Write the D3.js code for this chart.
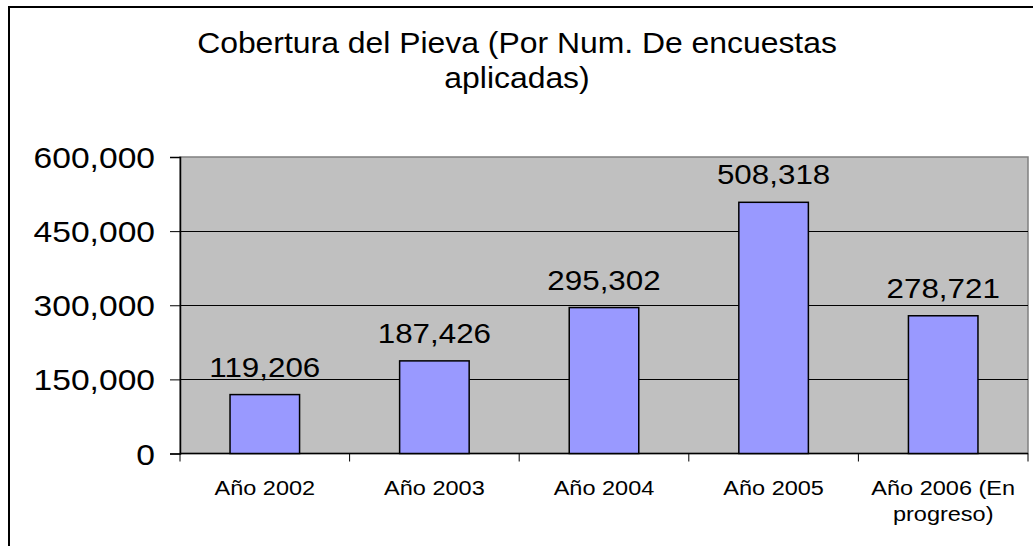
<!DOCTYPE html>
<html>
<head>
<meta charset="utf-8">
<script src="https://cdn.jsdelivr.net/npm/d3@7/dist/d3.min.js"></script>
<style>
  html, body { margin: 0; padding: 0; background: #fff; }
  text { font-family: "Liberation Sans", Arial, sans-serif; fill: #000; }
</style>
</head>
<body>
<div id="chart"></div>
<script>
var categories = [["Año 2002"], ["Año 2003"], ["Año 2004"], ["Año 2005"], ["Año 2006 (En", "progreso)"]];
var values = [119206, 187426, 295302, 508318, 278721];
var yTicks = [0, 150000, 300000, 450000, 600000];
var titleLines = ["Cobertura del Pieva (Por Num. De encuestas", "aplicadas)"];

var width = 1033, height = 546;
var plot = { left: 180, top: 157, right: 1028, bottom: 453.5 };

var svg = d3.select("#chart").append("svg")
  .attr("width", width)
  .attr("height", height);

// outer chart border (right and bottom are cut off)
svg.append("rect")
  .attr("x", 9).attr("y", 7)
  .attr("width", 1100).attr("height", 600)
  .attr("fill", "#fff")
  .attr("stroke", "#000")
  .attr("stroke-width", 2);

// the original text is a bit wider than plain Arial
function label(sel, x, y, txt, size, anchor, stretch) {
  return sel.append("text")
    .attr("transform", "translate(" + x + "," + y + ") scale(" + (stretch || 1.12) + ",1)")
    .attr("text-anchor", anchor || "middle")
    .style("font-size", size + "px")
    .text(txt);
}

var x = d3.scaleBand()
  .domain(d3.range(categories.length))
  .range([plot.left, plot.right])
  .paddingInner(0.59)
  .paddingOuter(0.295);

var y = d3.scaleLinear()
  .domain([0, 600000])
  .range([plot.bottom, plot.top]);

// plot area
svg.append("rect")
  .attr("x", plot.left).attr("y", plot.top)
  .attr("width", plot.right - plot.left)
  .attr("height", plot.bottom - plot.top)
  .attr("fill", "#c0c0c0")
  .attr("stroke", "#808080")
  .attr("stroke-width", 1.5);

// gridlines
svg.append("g").selectAll("line")
  .data(yTicks.filter(function(d) { return d > 0 && d < 600000; }))
  .enter().append("line")
    .attr("x1", plot.left).attr("x2", plot.right)
    .attr("y1", function(d) { return Math.round(y(d)) + 0.5; })
    .attr("y2", function(d) { return Math.round(y(d)) + 0.5; })
    .attr("stroke", "#000")
    .attr("stroke-width", 1);

// y axis
var fmt = d3.format(",");
var yAxis = svg.append("g")
  .attr("transform", "translate(" + plot.left + ",0)")
  .call(d3.axisLeft(y).tickValues(yTicks).tickSize(10).tickFormat(""));
yAxis.select(".domain").attr("stroke", "#000").attr("stroke-width", 1.5);
yAxis.selectAll(".tick line").attr("stroke", "#000");
yTicks.forEach(function(t) {
  label(svg, 155, y(t) + 11, fmt(t), 30, "end");
});

// x axis
var xAxis = svg.append("g")
  .attr("transform", "translate(0," + plot.bottom + ")");
xAxis.append("line")
  .attr("x1", plot.left).attr("x2", plot.right)
  .attr("stroke", "#000").attr("stroke-width", 1.5);
var step = x.step();
xAxis.selectAll(".xtick")
  .data(d3.range(categories.length + 1))
  .enter().append("line")
    .attr("class", "xtick")
    .attr("x1", function(i) { return plot.left + i * step; })
    .attr("x2", function(i) { return plot.left + i * step; })
    .attr("y1", 0).attr("y2", 8)
    .attr("stroke", "#000");

categories.forEach(function(lines, i) {
  var cx = x(i) + x.bandwidth() / 2;
  lines.forEach(function(l, j) {
    label(svg, cx, 495 + j * 26, l, 21);
  });
});

// bars
svg.append("g").selectAll("rect")
  .data(values)
  .enter().append("rect")
    .attr("x", function(d, i) { return x(i); })
    .attr("y", function(d) { return y(d); })
    .attr("width", x.bandwidth())
    .attr("height", function(d) { return plot.bottom - y(d); })
    .attr("fill", "#9999ff")
    .attr("stroke", "#000")
    .attr("stroke-width", 1.5);

// value labels
values.forEach(function(v, i) {
  label(svg, x(i) + x.bandwidth() / 2, y(v) - 18, fmt(v), 28);
});

// title
titleLines.forEach(function(l, j) {
  label(svg, 517, 53 + j * 35, l, 29, "middle", 1.1);
});
</script>
</body>
</html>
